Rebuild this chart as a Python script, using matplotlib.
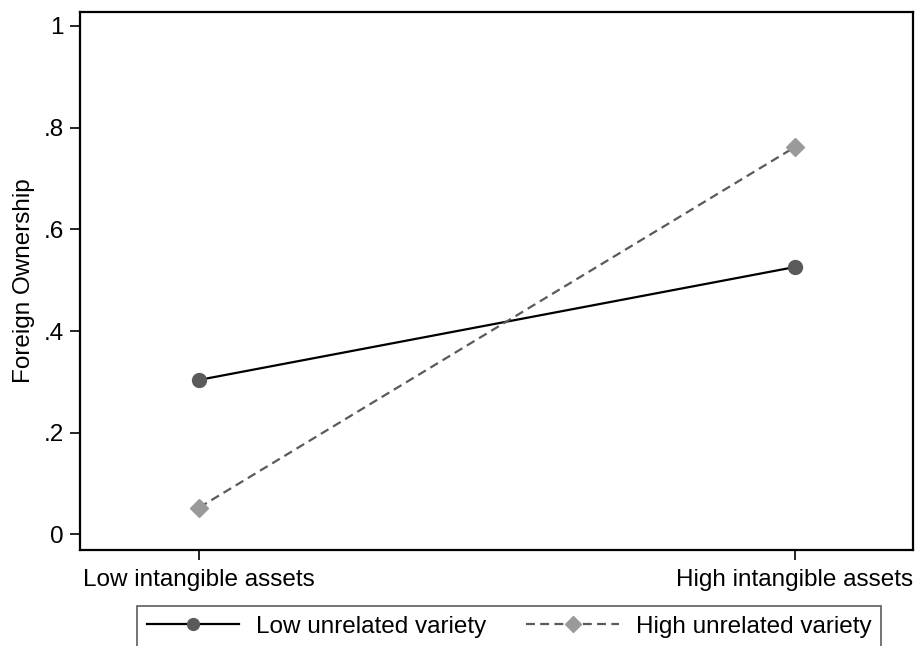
import matplotlib
matplotlib.use("Agg")
import matplotlib.pyplot as plt

plt.rcParams['font.family'] = ['Liberation Sans', 'DejaVu Sans']

categories = ["Low intangible assets", "High intangible assets"]
low_unrelated = [0.304, 0.526]
high_unrelated = [0.053, 0.762]
y_ticks = [0, 0.2, 0.4, 0.6, 0.8, 1.0]
y_tick_labels = ["0", ".2", ".4", ".6", ".8", "1"]
series_names = ["Low unrelated variety", "High unrelated variety"]

FS = 17.5

fig = plt.figure(figsize=(9.16, 6.46), dpi=100)
ax = fig.add_axes([80/916, 1-550/646, (913-80)/916, (550-12)/646])

x = list(range(len(categories)))
ax.plot(x, low_unrelated, color="black", lw=1.6, marker="o", ms=10,
        mfc="#5a5a5a", mec="#5a5a5a", label=series_names[0])
ax.plot(x, high_unrelated, color="#5a5a5a", lw=1.6, ls=(0, (4, 2.4)), marker="D", ms=9,
        mfc="#9a9a9a", mec="#9a9a9a", label=series_names[1])

ax.set_xlim(-0.2, 1.198)
ax.set_ylim(-0.0305, 1.0275)
ax.set_xticks(x)
ax.set_xticklabels(categories, fontsize=FS)
ax.set_yticks(y_ticks)
ax.set_yticklabels(y_tick_labels, fontsize=FS)
ax.tick_params(axis="both", direction="out", length=7.5, width=1.2, color="black", pad=4)
ax.tick_params(axis="x", pad=6)
ax.set_ylabel("Foreign Ownership", fontsize=FS, labelpad=6)
for s in ax.spines.values():
    s.set_linewidth(1.6)
    s.set_color("black")

leg = fig.legend(loc="upper center", bbox_to_anchor=(509/916, 1-606/646), ncol=2, fontsize=FS,
                 frameon=True, fancybox=False, edgecolor="#333333", handlelength=3.8,
                 handletextpad=0.7, columnspacing=1.65, borderpad=0.4, borderaxespad=0,
                 markerscale=0.85)
leg.get_frame().set_linewidth(1.2)

fig.savefig("out.png", dpi=100)
